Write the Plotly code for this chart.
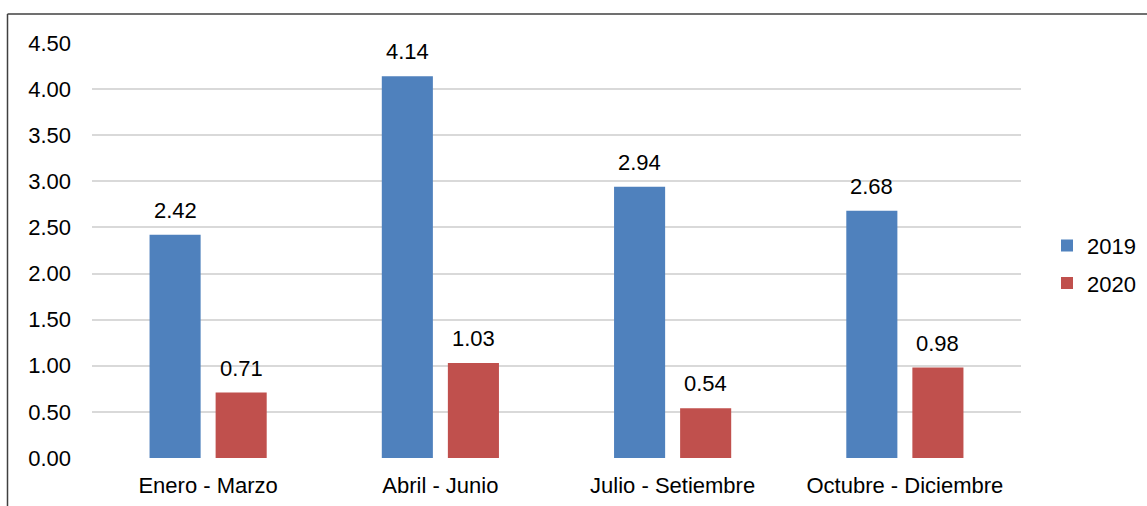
import plotly.graph_objects as go

categories = ["Enero - Marzo", "Abril - Junio", "Julio - Setiembre", "Octubre - Diciembre"]
series_names = ["2019", "2020"]
values_2019 = [2.42, 4.14, 2.94, 2.68]
values_2020 = [0.71, 1.03, 0.54, 0.98]
colors = ["#4F81BD", "#C0504D"]
y_ticks = [0, 0.5, 1.0, 1.5, 2.0, 2.5, 3.0, 3.5, 4.0, 4.5]

FONT = "Liberation Sans, Arial, sans-serif"
FS = 22

fig = go.Figure()
for name, vals, col in zip(series_names, [values_2019, values_2020], colors):
    fig.add_trace(go.Bar(
        x=categories, y=vals, name=name, legendgroup=name,
        marker=dict(color=col, line=dict(width=0)),
    ))

# data labels above bars
for vals, shift in zip([values_2019, values_2020], [-33, 33]):
    for c, v in zip(categories, vals):
        fig.add_annotation(x=c, y=v, xref="x", yref="y", text=f"{v:.2f}",
                           showarrow=False, xshift=shift, yshift=10,
                           yanchor="bottom", font=dict(size=FS, color="#000000"))

L, R, T, B = 92, 126, 43, 48
W, H = 1147, 506
pw, ph = W - L - R, H - T - B

fig.update_layout(
    width=W, height=H,
    margin=dict(l=L, r=R, t=T, b=B, pad=0, autoexpand=False),
    paper_bgcolor="white", plot_bgcolor="white",
    barmode="group", bargap=0.431, bargroupgap=0.227,
    font=dict(family=FONT, size=FS, color="#000000"),
    showlegend=True,
    legend=dict(x=(1047 - L) / pw, xanchor="left", y=0.466, yanchor="middle",
                font=dict(size=FS), traceorder="grouped", tracegroupgap=6,
                bgcolor="rgba(0,0,0,0)"),
    xaxis=dict(showgrid=False, showline=False, ticks="", tickfont=dict(size=FS),
               zeroline=False, ticklabelstandoff=12),
    yaxis=dict(range=[0, 4.5], tickvals=y_ticks, tickformat=".2f",
               showgrid=True, gridcolor="#D9D9D9", gridwidth=1.5,
               zeroline=False, showline=False, ticks="", ticklabelstandoff=20,
               tickfont=dict(size=FS)),
)

# outer chart border (top and left visible in reference)
x_left = (7.5 - L) / pw
y_top = (H - B - 14) / ph
y_bot = (H - B - 520) / ph
fig.add_shape(type="line", xref="paper", yref="paper", x0=x_left, x1=(W + 10 - L) / pw,
              y0=y_top, y1=y_top, line=dict(color="#404040", width=1.5))
fig.add_shape(type="line", xref="paper", yref="paper", x0=x_left, x1=x_left,
              y0=y_top, y1=y_bot, line=dict(color="#404040", width=1.5))

fig.write_html("out.html")
